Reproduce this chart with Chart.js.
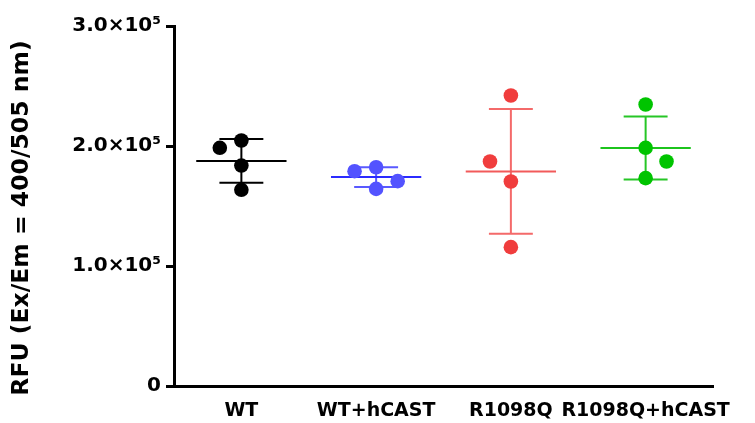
<!DOCTYPE html>
<html>
<head>
<meta charset="utf-8">
<script src="https://cdn.jsdelivr.net/npm/chart.js@4/dist/chart.umd.min.js"></script>
<style>
  html, body { margin: 0; padding: 0; background: #ffffff; }
  #wrap { width: 755px; height: 423px; }
</style>
</head>
<body>
<div id="wrap"><canvas id="chart" width="755" height="423"></canvas></div>
<script>
// Groups along the x axis
const categories = ['WT', 'WT+hCAST', 'R1098Q', 'R1098Q+hCAST'];

// RFU readings per group (four replicates each)
const wtValues = [198500, 204600, 183700, 163500];
const wtHcastValues = [179000, 182300, 170700, 164300];
const r1098qValues = [242100, 187100, 170400, 115700];
const r1098qHcastValues = [234600, 198500, 187100, 173200];

// Horizontal spread of overlapping replicates, in category units
const pointOffsets = [
  [-0.16, 0, 0, 0],
  [-0.16, 0, 0.16, 0],
  [0, -0.155, 0, 0],
  [0, 0, 0.155, 0]
];

// Y axis ticks
const yTicks = [0, 100000, 200000, 300000];

const groupValues = [wtValues, wtHcastValues, r1098qValues, r1098qHcastValues];
const pointColors = ['#000000', '#5353ff', '#f03d3d', '#00c400'];
const meanColors  = ['#000000', '#2b2bff', '#f25a5a', '#1cc41c'];
const barColors   = ['#000000', '#5a5aff', '#f46a6a', '#26c626'];

const MEAN_HALF = 0.335;
const CAP_HALF = 0.163;

function mean(a) { return a.reduce((s, v) => s + v, 0) / a.length; }
function sd(a) {
  const m = mean(a);
  return Math.sqrt(a.reduce((s, v) => s + (v - m) * (v - m), 0) / (a.length - 1));
}

const datasets = [];

// replicate points (drawn on top)
groupValues.forEach((vals, i) => {
  datasets.push({
    data: vals.map((v, k) => ({ x: i + pointOffsets[i][k], y: v })),
    backgroundColor: pointColors[i],
    borderColor: pointColors[i],
    borderWidth: 0,
    pointRadius: 7.3,
    pointHoverRadius: 7.3,
    showLine: false,
    order: 0
  });
});

// mean line and SD whiskers for each group
groupValues.forEach((vals, i) => {
  const m = mean(vals), s = sd(vals);
  datasets.push({
    data: [{ x: i - MEAN_HALF, y: m }, { x: i + MEAN_HALF, y: m }],
    borderColor: meanColors[i],
    borderWidth: 2,
    pointRadius: 0,
    showLine: true,
    spanGaps: false,
    order: 1
  });
  datasets.push({
    data: [
      { x: i - CAP_HALF, y: m + s }, { x: i + CAP_HALF, y: m + s }, { x: i, y: null },
      { x: i, y: m + s }, { x: i, y: m - s }, { x: i, y: null },
      { x: i - CAP_HALF, y: m - s }, { x: i + CAP_HALF, y: m - s }
    ],
    borderColor: barColors[i],
    borderWidth: 2,
    pointRadius: 0,
    showLine: true,
    spanGaps: false,
    order: 2
  });
});

function tickText(v) {
  if (v === 0) return '0';
  return (v / 100000).toFixed(1) + '\u00d710\u2075';
}

// rotated y-axis caption
const yCaption = {
  id: 'yCaption',
  afterDraw(chart) {
    const { ctx, chartArea } = chart;
    ctx.save();
    ctx.translate(22, (chartArea.top + chartArea.bottom) / 2 + 12);
    ctx.rotate(-Math.PI / 2);
    ctx.font = 'bold 23.5px "DejaVu Sans"';
    ctx.fillStyle = '#000000';
    ctx.textAlign = 'center';
    ctx.textBaseline = 'middle';
    ctx.fillText('RFU (Ex/Em = 400/505 nm)', 0, 0);
    ctx.restore();
  }
};

new Chart(document.getElementById('chart'), {
  type: 'scatter',
  data: { datasets },
  plugins: [yCaption],
  options: {
    responsive: false,
    animation: false,
    devicePixelRatio: 1,
    layout: { padding: { top: 26, right: 42, left: 0, bottom: 0 } },
    plugins: { legend: { display: false }, tooltip: { enabled: false } },
    scales: {
      x: {
        type: 'linear',
        min: -0.5,
        max: 3.5,
        afterBuildTicks(scale) {
          scale.ticks = categories.map((c, i) => ({ value: i }));
        },
        afterFit(scale) { scale.height = 37; },
        border: { display: true, color: '#000000', width: 3 },
        grid: { display: false, drawTicks: false },
        ticks: {
          padding: 14,
          color: '#000000',
          font: { family: 'DejaVu Sans', weight: 'bold', size: 19 },
          maxRotation: 0,
          autoSkip: false,
          callback: (v) => categories[v] ?? ''
        }
      },
      y: {
        min: 0,
        max: 300000,
        afterBuildTicks(scale) {
          scale.ticks = yTicks.map(v => ({ value: v }));
        },
        afterFit(scale) { scale.width = 174; },
        border: { display: true, color: '#000000', width: 3 },
        grid: {
          drawOnChartArea: false,
          drawTicks: true,
          tickLength: 8,
          tickWidth: 3,
          tickColor: '#000000'
        },
        ticks: {
          padding: 5,
          color: '#000000',
          font: { family: 'DejaVu Sans', weight: 'bold', size: 20 },
          callback: (v) => tickText(v)
        }
      }
    }
  }
});
</script>
</body>
</html>
